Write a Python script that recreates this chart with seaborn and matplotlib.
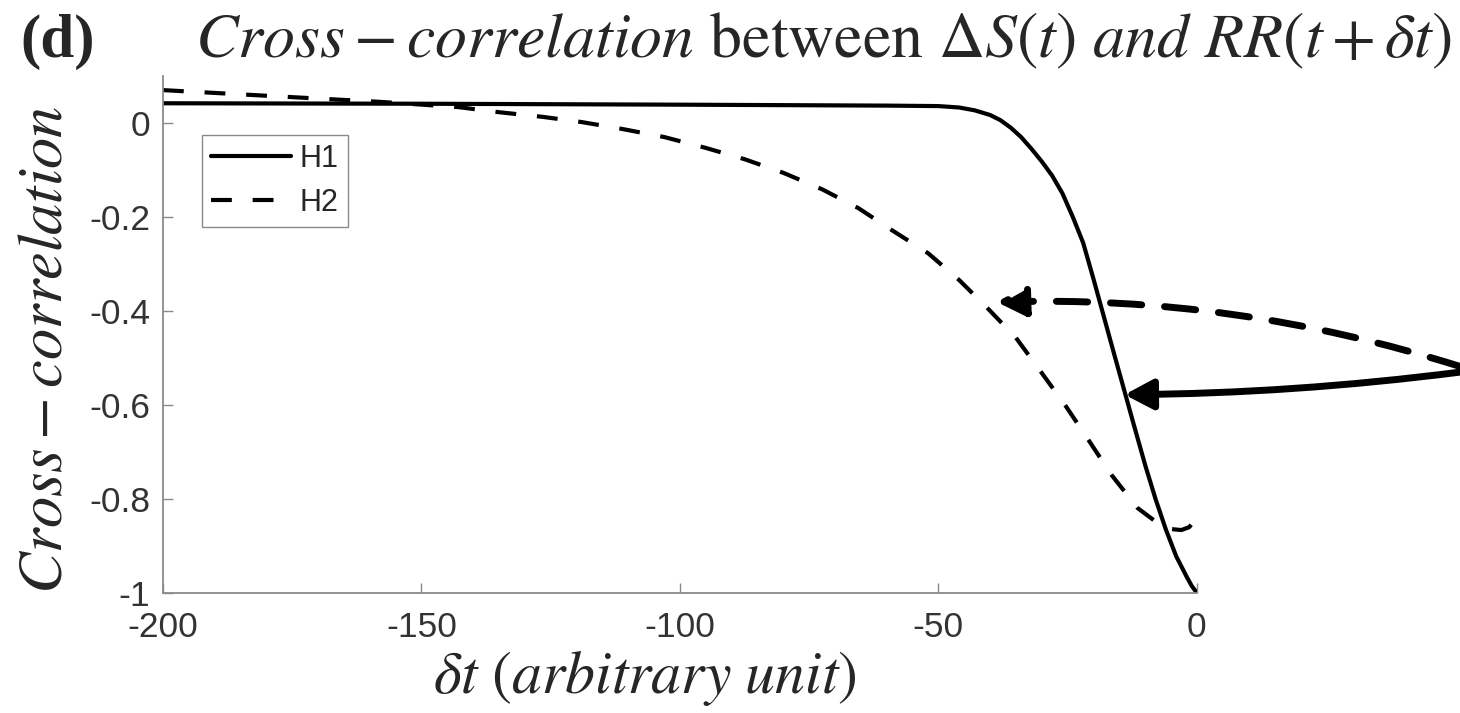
import matplotlib
matplotlib.use("Agg")
import matplotlib.pyplot as plt
import seaborn as sns
import numpy as np
import pandas as pd

# ---- data ----
h1_lag = [-200, -150, -100, -60, -50, -46, -43, -40, -38, -36, -34, -32, -30, -28,
          -26, -24, -22, -20, -18, -16, -14, -12, -10, -8, -6, -4, -2, -1, 0]
h1_corr = [0.042, 0.041, 0.039, 0.037, 0.036, 0.033, 0.027, 0.017, 0.006, -0.010,
           -0.030, -0.055, -0.082, -0.112, -0.150, -0.200, -0.255, -0.332, -0.412,
           -0.492, -0.571, -0.650, -0.728, -0.800, -0.865, -0.922, -0.965, -0.985, -1.0]

h2_lag = [-200, -175, -158, -143, -135, -126.5, -119, -111, -103, -95, -87.5, -80,
          -72.5, -65.5, -59, -52, -46, -40.5, -35, -30, -25.5, -21, -16.5, -11.5,
          -7.5, -5, -3, -1.5, 0]
h2_corr = [0.070, 0.055, 0.045, 0.034, 0.023, 0.013, 0.002, -0.013, -0.030, -0.053,
           -0.077, -0.106, -0.141, -0.181, -0.228, -0.277, -0.334, -0.394, -0.457,
           -0.532, -0.600, -0.674, -0.749, -0.819, -0.852, -0.864, -0.866, -0.860, -0.840]

series_labels = ["H1", "H2"]
x_ticks = [-200, -150, -100, -50, 0]
x_tick_labels = ["-200", "-150", "-100", "-50", "0"]
y_ticks = [0, -0.2, -0.4, -0.6, -0.8, -1]
y_tick_labels = ["0", "-0.2", "-0.4", "-0.6", "-0.8", "-1"]

# annotation arrows: (tip lag, tip corr) -> (tail lag, tail corr)
arrow_h2 = [(-38.7, -0.381), (50.9, -0.518)]
arrow_h1 = [(-14.0, -0.578), (50.9, -0.530)]

# ---- style ----
sns.set_theme(style="white")
plt.rcParams["font.family"] = ["Liberation Sans", "DejaVu Sans"]
plt.rcParams["mathtext.fontset"] = "stix"

fig = plt.figure(figsize=(14.6, 7.13), dpi=100)
ax = fig.add_axes([0.1116, 0.1683, 0.7082, 0.7251])

sns.lineplot(x=h1_lag, y=h1_corr, ax=ax, color="black", linewidth=3.0,
             label=series_labels[0], sort=False)
sns.lineplot(x=h2_lag, y=h2_corr, ax=ax, color="black", linewidth=3.0,
             linestyle=(0, (5.0, 5.0)), label=series_labels[1], sort=False)

ax.set_xlim(-200, 0)
ax.set_ylim(-1, 0.1)
ax.set_xticks(x_ticks)
ax.set_xticklabels(x_tick_labels)
ax.set_yticks(y_ticks)
ax.set_yticklabels(y_tick_labels)
ax.set_xlabel("")
ax.set_ylabel("")

ax.tick_params(axis="both", direction="in", length=7, width=1, color="#8a8a8a",
               labelsize=25.5, labelcolor="#333333", bottom=True, left=True, pad=9)
ax.tick_params(axis="x", pad=13)
for s in ["top", "right"]:
    ax.spines[s].set_visible(False)
for s in ["left", "bottom"]:
    ax.spines[s].set_color("#8a8a8a")
    ax.spines[s].set_linewidth(1.3)

leg = ax.legend(loc="upper left", bbox_to_anchor=(0.0377, 0.886), borderaxespad=0,
                fontsize=22, handlelength=2.6, handletextpad=0.3,
                borderpad=0.3, labelspacing=0.45, fancybox=False, framealpha=1,
                edgecolor="#8a8a8a")
leg.get_frame().set_linewidth(1.0)

# arrows
ax.annotate("", xy=arrow_h2[0], xytext=arrow_h2[1], annotation_clip=False,
            arrowprops=dict(arrowstyle="-|>,head_length=0.85,head_width=0.45",
                            mutation_scale=20, color="black", lw=5,
                            linestyle=(0, (4.5, 3.3)),
                            connectionstyle="arc3,rad=0.085",
                            shrinkA=0, shrinkB=0))
ax.annotate("", xy=arrow_h1[0], xytext=arrow_h1[1], annotation_clip=False,
            arrowprops=dict(arrowstyle="-|>,head_length=0.85,head_width=0.45",
                            mutation_scale=20, color="black", lw=5,
                            connectionstyle="arc3,rad=-0.03",
                            shrinkA=0, shrinkB=0))

# texts
fig.text(0.014, 1 - 57 / 713, "(d)", fontsize=44, fontweight="bold",
         family="Liberation Serif", ha="left", va="baseline")
fig.text(195 / 1460, 1 - 57 / 713,
         r"$Cross - correlation$ between $\Delta S(t)$ $and$ $RR(t+\delta t)$",
         fontsize=46, ha="left", va="baseline", family="STIXGeneral")
fig.text(45 / 1460, 1 - 350 / 713, r"$Cross - correlation$", fontsize=45,
         rotation=90, ha="center", va="center")
fig.text(645 / 1460, 1 - 678 / 713, r"$\delta t\ (arbitrary\ unit)$", fontsize=43,
         ha="center", va="center")

fig.savefig("out.png", dpi=100)
